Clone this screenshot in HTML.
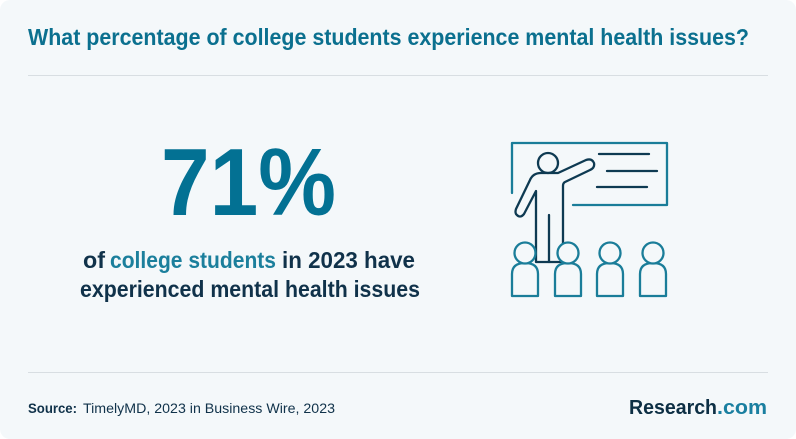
<!DOCTYPE html>
<html>
<head>
<meta charset="utf-8">
<style>
  html,body{margin:0;padding:0;background:#ffffff;}
  body{width:796px;height:439px;overflow:hidden;}
  svg{display:block;}
  text{font-family:"Liberation Sans", sans-serif;}
</style>
</head>
<body>
<svg width="796" height="439" viewBox="0 0 796 439" xmlns="http://www.w3.org/2000/svg">
  <rect x="0" y="0" width="796" height="439" rx="10" ry="10" fill="#f4f8fa"/>

  <!-- Title -->
  <text x="28" y="45" font-size="23" font-weight="bold" fill="#0b708f" textLength="721" lengthAdjust="spacingAndGlyphs">What percentage of college students experience mental health issues?</text>
  <line x1="28" y1="75.5" x2="768" y2="75.5" stroke="#d8dee2" stroke-width="1"/>

  <!-- Big number -->
  <text x="161" y="215" font-size="96" font-weight="bold" fill="#037193" textLength="175" lengthAdjust="spacingAndGlyphs">71%</text>

  <!-- Subtext -->
  <text x="83" y="268" font-size="23" font-weight="bold" fill="#10324a" textLength="22" lengthAdjust="spacingAndGlyphs">of</text>
  <text x="110" y="268" font-size="23" font-weight="bold" fill="#1b7f9c" textLength="166" lengthAdjust="spacingAndGlyphs">college students</text>
  <text x="282" y="268" font-size="23" font-weight="bold" fill="#10324a" textLength="133" lengthAdjust="spacingAndGlyphs">in 2023 have</text>
  <text x="80" y="297" font-size="23" font-weight="bold" fill="#10324a" textLength="340" lengthAdjust="spacingAndGlyphs">experienced mental health issues</text>

  <!-- Icon: board -->
  <g fill="none" stroke-linecap="round" stroke-linejoin="round">
    <path d="M512 193 L512 143 L667 143 L667 205 L573 205" stroke="#1a7d99" stroke-width="2.3"/>
    <line x1="599" y1="154" x2="649" y2="154" stroke="#0e3a52" stroke-width="2.3"/>
    <line x1="607" y1="171" x2="657" y2="171" stroke="#0e3a52" stroke-width="2.3"/>
    <line x1="597" y1="187" x2="647" y2="187" stroke="#0e3a52" stroke-width="2.3"/>

    <!-- Teacher -->
    <circle cx="548" cy="163" r="10" stroke="#0e3a52" stroke-width="2.3"/>
    <path d="M536 262 L536 191 L524 214 Q520 219 516 214 Q515 212 516 209 L530 180 Q533 173 541 173 L558 173 L586 160 Q592 158 594 163 Q595 168 590 170 L565 182 Q563 183 563 186 L563 262 Z" stroke="#0e3a52" stroke-width="2.3"/>
    <line x1="549" y1="215" x2="549" y2="262" stroke="#0e3a52" stroke-width="2.3"/>

    <!-- Students -->
    <g stroke="#1a7d99" stroke-width="2.3" fill="#f4f8fa">
      <path d="M512 296 L512 274 Q512 263 525 263 Q538 263 538 274 L538 296 Z"/>
      <circle cx="525" cy="253" r="10.5"/>
      <path d="M555 296 L555 274 Q555 263 568 263 Q581 263 581 274 L581 296 Z"/>
      <circle cx="568" cy="253" r="10.5"/>
      <path d="M597 296 L597 274 Q597 263 610 263 Q623 263 623 274 L623 296 Z"/>
      <circle cx="610" cy="253" r="10.5"/>
      <path d="M640 296 L640 274 Q640 263 653 263 Q666 263 666 274 L666 296 Z"/>
      <circle cx="653" cy="253" r="10.5"/>
    </g>
  </g>

  <!-- Footer -->
  <line x1="28" y1="372.5" x2="768" y2="372.5" stroke="#d8dee2" stroke-width="1"/>
  <text x="28" y="413" font-size="14" font-weight="bold" fill="#10324a" textLength="49" lengthAdjust="spacingAndGlyphs">Source:</text>
  <text x="83" y="413" font-size="14" fill="#10324a" textLength="252" lengthAdjust="spacingAndGlyphs">TimelyMD, 2023 in Business Wire, 2023</text>
  <text x="629" y="414" font-size="20" font-weight="bold" fill="#0d2f44" textLength="88" lengthAdjust="spacingAndGlyphs">Research</text>
  <text x="717" y="414" font-size="20" font-weight="bold" fill="#1a7fa0" textLength="50" lengthAdjust="spacingAndGlyphs">.com</text>
</svg>
</body>
</html>
